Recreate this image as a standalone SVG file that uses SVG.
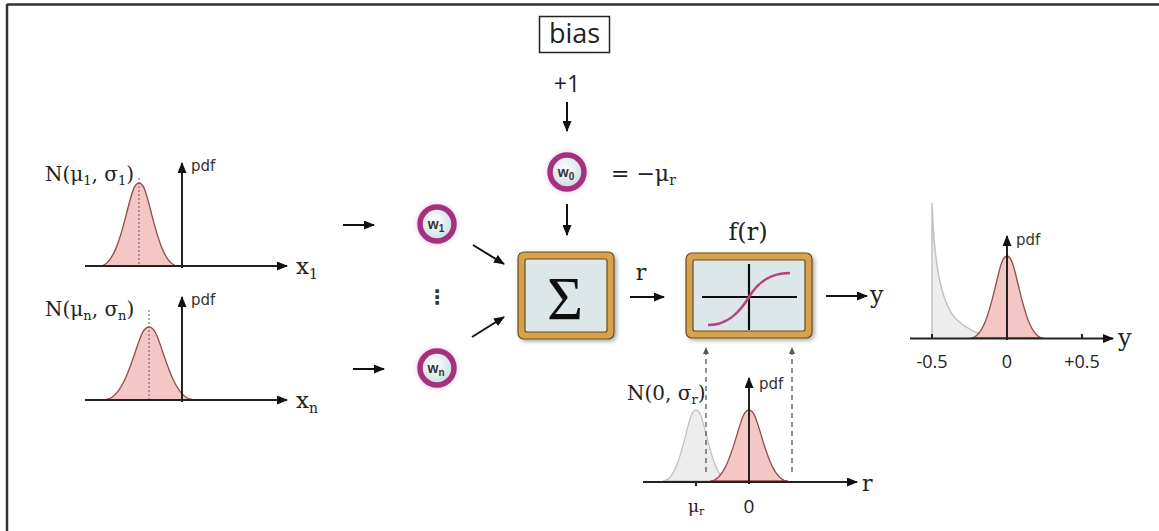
<svg xmlns="http://www.w3.org/2000/svg" width="1159" height="531" viewBox="0 0 1159 531">
<style>
.serif{font-family:"DejaVu Serif","Liberation Serif",serif;fill:#222}
.sans{font-family:"Open Sans","DejaVu Sans",sans-serif;fill:#222}
.pdf{font-family:"DejaVu Sans","Liberation Sans",sans-serif;font-size:15px;fill:#333}
.axis{stroke:#222;stroke-width:2;fill:none}
.conn{stroke:#111;stroke-width:2;fill:none}
.pink{fill:#f5c6c6;stroke:#8e4d4d;stroke-width:1.3}
.gray{fill:#ededed;stroke:#c2c2c2;stroke-width:1.3}
.dot{stroke:#8e4d4d;stroke-width:1;stroke-dasharray:2 2;fill:none}
.dash{stroke:#555;stroke-width:1.3;stroke-dasharray:5 4;fill:none}
.wtxt{font-family:"Liberation Sans",Arial,sans-serif;font-size:14px;fill:#333;font-weight:bold}
.frameGold{fill:#dde7e9;stroke:#d6a24c;stroke-width:7}
.frameEdge{fill:none;stroke:#6b4a1c;stroke-width:1.2}
</style>
<defs>
<marker id="ah" markerUnits="userSpaceOnUse" markerWidth="11" markerHeight="9" refX="10" refY="4.5" orient="auto">
<path d="M0,0 L11,4.5 L0,9 Z" fill="#111"/>
</marker>
<marker id="ahg" markerUnits="userSpaceOnUse" markerWidth="7" markerHeight="6" refX="6" refY="3" orient="auto">
<path d="M0,0 L7,3 L0,6 Z" fill="#555"/>
</marker>
<radialGradient id="wIn" cx="0.45" cy="0.4" r="0.6">
<stop offset="0" stop-color="#ffffff"/>
<stop offset="1" stop-color="#c9dcdf"/>
</radialGradient>
<radialGradient id="glow" cx="0.5" cy="0.5" r="0.5">
<stop offset="0.6" stop-color="#e9a9d6" stop-opacity="0.8"/>
<stop offset="1" stop-color="#f6dced" stop-opacity="0"/>
</radialGradient>
<filter id="shadow" x="-20%" y="-20%" width="140%" height="140%">
<feGaussianBlur in="SourceAlpha" stdDeviation="2"/>
<feOffset dx="2" dy="2" result="b"/>
<feComponentTransfer><feFuncA type="linear" slope="0.35"/></feComponentTransfer>
<feMerge><feMergeNode/><feMergeNode in="SourceGraphic"/></feMerge>
</filter>
</defs>

<rect width="1159" height="531" fill="#ffffff"/>
<g id="frame">
<line x1="7" y1="4.5" x2="1159" y2="4.5" stroke="#333" stroke-width="2.5"/>
<line x1="7" y1="4" x2="7" y2="531" stroke="#333" stroke-width="2.5"/>
</g>

<!-- input distribution 1 -->
<g id="input1">
<path class="pink" d="M100,266 C113,266 120.8,235.8 126,215.6 C131.2,195.4 133.8,183 139,183 C144.2,183 146.8,195.4 152,215.6 C157.2,235.8 165,266 178,266 Z"/>
<line class="dot" x1="139" y1="178" x2="139" y2="266"/>
<line class="axis" x1="85" y1="266" x2="287" y2="266" marker-end="url(#ah)"/>
<line class="axis" x1="182" y1="268" x2="182" y2="163" marker-end="url(#ah)"/>
<text class="pdf" x="191" y="171">pdf</text>
<text class="serif" x="45" y="181" font-size="20">N(μ<tspan font-size="13" dy="4">1</tspan><tspan dy="-4">, σ</tspan><tspan font-size="13" dy="4">1</tspan><tspan dy="-4">)</tspan></text>
<text class="serif" x="296" y="274" font-size="23">x<tspan font-size="14" dy="5">1</tspan></text>
</g>

<!-- input distribution n -->
<g id="inputn">
<path class="pink" d="M104,400 C119,400 128,373.4 134,355.7 C140,338 143,327 149,327 C155,327 158,338 164,355.7 C170,373.4 179,400 194,400 Z"/>
<line class="dot" x1="149" y1="310" x2="149" y2="400"/>
<line class="axis" x1="85" y1="400" x2="287" y2="400" marker-end="url(#ah)"/>
<line class="axis" x1="182" y1="402" x2="182" y2="297" marker-end="url(#ah)"/>
<text class="pdf" x="191" y="305">pdf</text>
<text class="serif" x="45" y="316" font-size="20">N(μ<tspan font-size="13" dy="4">n</tspan><tspan dy="-4">, σ</tspan><tspan font-size="13" dy="4">n</tspan><tspan dy="-4">)</tspan></text>
<text class="serif" x="296" y="408" font-size="23">x<tspan font-size="14" dy="5">n</tspan></text>
</g>

<!-- bias -->
<g id="bias">
<rect x="539.5" y="16.5" width="70" height="36" fill="#fff" stroke="#222" stroke-width="1.5"/>
<text class="sans" x="574.5" y="43" font-size="27" text-anchor="middle">bias</text>
</g>
<g id="plus1">
<text class="sans" x="567" y="92" font-size="23" text-anchor="middle">+1</text>
</g>

<!-- weights -->
<g id="w0">
<circle cx="567" cy="172" r="25" fill="url(#glow)"/>
<circle cx="567" cy="172" r="17" fill="url(#wIn)" stroke="#a5307e" stroke-width="5.5"/>
<text class="wtxt" x="566" y="177" text-anchor="middle">w<tspan font-size="10" dy="3">0</tspan></text>
<text class="serif" x="611" y="181" font-size="22">= −μ<tspan font-size="14" dy="4">r</tspan></text>
</g>
<g id="w1">
<circle cx="437" cy="224" r="25" fill="url(#glow)"/>
<circle cx="437" cy="224" r="17" fill="url(#wIn)" stroke="#a5307e" stroke-width="5.5"/>
<text class="wtxt" x="436" y="229" text-anchor="middle">w<tspan font-size="10" dy="3">1</tspan></text>
</g>
<g id="dots">
<text x="437" y="304" font-size="20" font-weight="bold" text-anchor="middle" font-family="DejaVu Sans, sans-serif" fill="#333">⋮</text>
</g>
<g id="wn">
<circle cx="437" cy="368" r="25" fill="url(#glow)"/>
<circle cx="437" cy="368" r="17" fill="url(#wIn)" stroke="#a5307e" stroke-width="5.5"/>
<text class="wtxt" x="436" y="373" text-anchor="middle">w<tspan font-size="10" dy="3">n</tspan></text>
</g>

<!-- sum -->
<g id="sum" filter="url(#shadow)">
<rect class="frameGold" x="521.5" y="255.5" width="89" height="80" rx="4"/>
<rect class="frameEdge" x="518" y="252" width="96" height="87" rx="6"/>
<rect class="frameEdge" x="525" y="259" width="82" height="73" rx="2"/>
<text x="565" y="319" font-size="62" text-anchor="middle" font-family="Liberation Serif, serif" fill="#111">Σ</text>
</g>
<g id="rlabel"><text class="serif" x="641" y="280" font-size="22" text-anchor="middle">r</text></g>

<!-- activation -->
<g id="activation" filter="url(#shadow)">
<rect class="frameGold" x="689.5" y="256.5" width="119" height="78" rx="4"/>
<rect class="frameEdge" x="686" y="253" width="126" height="85" rx="6"/>
<rect class="frameEdge" x="693" y="260" width="112" height="71" rx="2"/>
<line x1="702" y1="297" x2="797" y2="297" stroke="#111" stroke-width="2.2"/>
<line x1="749" y1="264" x2="749" y2="330" stroke="#111" stroke-width="2.2"/>
<path d="M708,325 C728,325 740,312 749,297 C758,282 770,273 790,273" fill="none" stroke="#b2457e" stroke-width="2.5"/>
</g>
<g id="flabel"><text class="serif" x="748" y="240" font-size="24" text-anchor="middle">f(r)</text></g>
<g id="yout"><text class="serif" x="870" y="303" font-size="24">y</text></g>

<!-- r distribution -->
<g id="rdist">
<path class="gray" d="M663,481 C674,481 680.6,455.2 685,437.9 C689.4,420.6 691.6,410 696,410 C700.4,410 702.6,420.6 707,437.9 C711.4,455.2 718,481 729,481 Z"/>
<path class="pink" d="M710,481 C723,481 730.8,455.2 736,437.9 C741.2,420.6 743.8,410 749,410 C754.2,410 756.8,420.6 762,437.9 C767.2,455.2 775,481 788,481 Z"/>
<line class="axis" x1="643" y1="482" x2="857" y2="482" marker-end="url(#ah)"/>
<line class="axis" x1="749" y1="484" x2="749" y2="378" marker-end="url(#ah)"/>
<line x1="696" y1="482" x2="696" y2="486" stroke="#222" stroke-width="2"/>
<text class="pdf" x="759" y="389">pdf</text>
<text class="serif" x="627" y="400" font-size="20">N(0, σ<tspan font-size="13" dy="4">r</tspan><tspan dy="-4">)</tspan></text>
<text class="serif" x="862" y="491" font-size="22">r</text>
<text class="serif" x="688" y="512" font-size="17">μ<tspan font-size="11" dy="3">r</tspan></text>
<text class="sans" x="749" y="513" font-size="19" text-anchor="middle">0</text>
</g>

<!-- y distribution -->
<g id="ydist">
<path d="M932,338 L932,203 C934,260 940,300 955,318 C965,328 975,333 992,338 Z" fill="#ededed" stroke="none"/>
<path d="M932,338 L932,203 C934,260 940,300 955,318 C965,328 975,333 992,338" fill="none" stroke="#c2c2c2" stroke-width="1.5"/>
<path class="pink" d="M971,338 C983,338 990.2,308.2 995,288.2 C999.8,268.3 1002.2,256 1007,256 C1011.8,256 1014.2,268.3 1019,288.2 C1023.8,308.2 1031,338 1043,338 Z"/>
<line class="axis" x1="910" y1="338.5" x2="1113" y2="338.5" marker-end="url(#ah)"/>
<line class="axis" x1="1007" y1="340" x2="1007" y2="236" marker-end="url(#ah)"/>
<line x1="932" y1="334" x2="932" y2="339" stroke="#222" stroke-width="2"/>
<line x1="1082" y1="334" x2="1082" y2="339" stroke="#222" stroke-width="2"/>
<text class="pdf" x="1016" y="245">pdf</text>
<text class="serif" x="1118" y="346" font-size="24">y</text>
<text class="sans" x="932" y="368" font-size="18" text-anchor="middle">-0.5</text>
<text class="sans" x="1007" y="368" font-size="18" text-anchor="middle">0</text>
<text class="sans" x="1082" y="368" font-size="18" text-anchor="middle">+0.5</text>
</g>

<g id="connectors">
<line class="conn" x1="567" y1="102" x2="567" y2="131" marker-end="url(#ah)"/>
<line class="conn" x1="567" y1="204" x2="567" y2="235" marker-end="url(#ah)"/>
<line class="conn" x1="343" y1="225" x2="374" y2="225" marker-end="url(#ah)"/>
<line class="conn" x1="353" y1="369" x2="384" y2="369" marker-end="url(#ah)"/>
<line class="conn" x1="473" y1="245" x2="504" y2="264" marker-end="url(#ah)"/>
<line class="conn" x1="472" y1="337" x2="504" y2="317" marker-end="url(#ah)"/>
<line class="conn" x1="630" y1="297" x2="664" y2="297" marker-end="url(#ah)"/>
<line class="conn" x1="826" y1="296" x2="867" y2="296" marker-end="url(#ah)"/>
<line class="dash" x1="706" y1="472" x2="706" y2="348" marker-end="url(#ahg)"/>
<line class="dash" x1="792" y1="472" x2="792" y2="348" marker-end="url(#ahg)"/>
</g>
</svg>
